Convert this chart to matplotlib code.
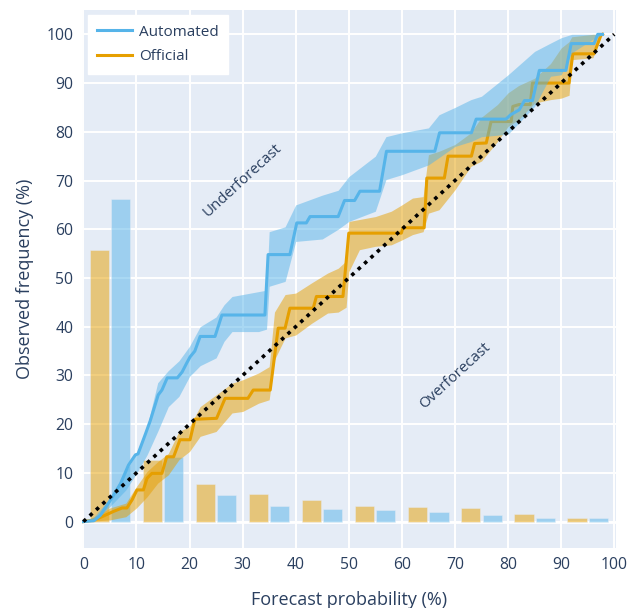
"""Reliability diagram: automated vs official forecasts."""

import matplotlib
matplotlib.use("Agg")
import matplotlib.pyplot as plt
import numpy as np

# --- data ------------------------------------------------------------------
bin_centers = [5, 15, 25, 35, 45, 55, 65, 75, 85, 95]
official_share = [55.8, 12.6, 7.7, 5.7, 4.5, 3.2, 3.1, 2.7, 1.6, 0.8]
automated_share = [66.3, 13.2, 5.5, 3.2, 2.6, 2.3, 2.0, 1.4, 0.8, 0.7]

auto_x = [0, 2, 3.2, 5.1, 7, 8.5, 9.8, 10.3, 11.7, 12.6, 14.1, 14.8, 15.8, 17.7,
          18.6, 19.5, 20.1, 21, 22, 24.8, 26.1, 34.2, 34.8, 38.9, 40.2, 42, 42.7,
          48, 49.2, 51.1, 52.1, 55.8, 57.1, 66.2, 67.1, 73.1, 74, 79.6, 80.5,
          82.1, 83.1, 84.6, 85.9, 90.9, 91.9, 96.2, 96.9, 97.8]
auto_y = [0, 0.2, 1.3, 4.4, 7.8, 11.6, 13.7, 13.9, 18, 20.7, 26, 27, 29.5, 29.5,
          30.7, 32.6, 33.8, 35, 38, 38, 42.4, 42.4, 54.8, 54.8, 61.3, 61.3, 62.6,
          62.6, 65.9, 65.9, 67.8, 67.8, 76, 76, 79.8, 79.8, 82.6, 82.6, 83.5,
          84.5, 86.4, 86.4, 92.6, 92.6, 98.1, 98.1, 100, 100]

auto_band_x = [0, 2, 5, 8, 10, 12, 14, 16, 18, 20, 22, 25, 26.5, 28, 33, 34.5,
               35, 38, 40, 45, 48, 50, 55, 57, 60, 65, 67, 70, 73, 75, 80, 85,
               88, 90, 92, 96, 98]
auto_hi = [0, 1, 4.8, 10.3, 14, 19.5, 28.5, 31, 33, 36, 40, 42, 44.5, 46.2, 47.2,
           47.5, 59.5, 60.5, 65, 67, 68, 70.8, 75, 79, 79.8, 80.8, 83.5, 85, 86.6,
           87.3, 91.7, 96.5, 98.2, 99.3, 100, 100, 100]
auto_lo = [0, 0, 3.1, 6.5, 9.9, 13.7, 18.5, 23.6, 25.7, 29.8, 32, 33.6, 37, 39,
           39, 39.5, 48.3, 49.3, 57.5, 58, 60, 61.6, 63.7, 70.2, 71.2, 73.2, 74.7,
           77, 78, 79, 79.5, 85.2, 91.4, 91.7, 96.2, 99, 100]

off_x = [0, 1.9, 3.5, 5.7, 7.3, 8.2, 9.2, 10.1, 11.3, 12, 12.9, 14.8, 15.7, 17,
         18.2, 20.1, 21, 25.1, 26.7, 31, 32, 35.2, 36.7, 38, 38.9, 43.3, 43.9,
         48.9, 50, 59.9, 60.2, 64.2, 64.7, 68, 68.7, 73.1, 73.7, 75.9, 76.8,
         80.6, 80.9, 82.1, 84.2, 84.6, 91.5, 92.2, 96.2, 97.5, 97.8]
off_y = [0, 0.3, 1, 2.1, 2.8, 2.8, 4.5, 6.5, 6.5, 8.9, 9.9, 9.9, 13.3, 13.3,
         16.8, 16.8, 21, 21.2, 25.3, 25.3, 27, 27, 39.7, 39.7, 43.8, 43.8, 46.2,
         46.2, 59.2, 59.2, 60.3, 60.3, 70.5, 70.5, 75, 75, 77.6, 77.7, 82.1,
         82.1, 85.2, 85.6, 85.6, 90, 90, 96, 96, 99.8, 100]

off_band_x = [0, 3, 5, 8, 10, 12, 14, 16, 18, 20, 22, 25, 28, 30, 33, 35, 36,
              38, 40, 43, 46, 48, 49.5, 50, 52, 55, 58, 60, 62, 64, 65, 67, 70,
              73, 75, 78, 80, 82, 85, 88, 90, 91.5, 92, 96, 97.5, 98]
off_hi = [0, 1.5, 2.8, 3.8, 7.2, 10.3, 12.3, 14, 18.5, 19.5, 23.6, 26, 28.4,
          29.1, 30.5, 31.8, 43, 46.6, 46.9, 49, 51, 52, 53.5, 61.6, 62, 62.6,
          63.7, 65, 66.4, 66.7, 75.3, 76, 77.4, 79.8, 83, 85.6, 88, 89.5, 91, 94,
          97.2, 98.5, 99.5, 100, 100, 100]
off_lo = [0, 0.2, 0.35, 1, 2.8, 5.1, 7.9, 9.6, 12.7, 14.4, 17.5, 18.5, 22.3,
          22.6, 24.3, 25, 33.2, 37.7, 38.3, 40.7, 42.8, 43, 44, 51.3, 55.8, 56.5,
          56.8, 57.8, 58.9, 59.5, 63.3, 64, 68.1, 72.9, 74, 78, 81.1, 82.5, 85.9,
          86.6, 86.9, 87.5, 94.8, 95.2, 100, 100]

# --- style ------------------------------------------------------------------
BLUE = "#56B4E9"
ORANGE = "#E69F00"
BG = "#E5ECF6"
TXT = "#2a3f5f"

plt.rcParams["font.family"] = ["Open Sans", "DejaVu Sans"]

fig = plt.figure(figsize=(6.29, 6.08), dpi=100)
ax = fig.add_axes([0.13, 0.098, 0.849, 0.8856])
ax.set_facecolor(BG)
for s in ax.spines.values():
    s.set_visible(False)
ax.grid(True, color="white", lw=1.4)
ax.set_axisbelow(True)
ax.axhline(0, color="white", lw=2, zorder=0.5)

centers = np.asarray(bin_centers, dtype=float)
ax.bar(centers - 2, official_share, width=3.6, color=ORANGE, alpha=0.5,
       edgecolor=BG, lw=0.6, zorder=1)
ax.bar(centers + 2, automated_share, width=3.6, color=BLUE, alpha=0.5,
       edgecolor=BG, lw=0.6, zorder=1)

ax.fill_between(off_band_x, off_lo, off_hi, color=ORANGE, alpha=0.5, lw=0, zorder=2)
ax.plot(off_x, off_y, color=ORANGE, lw=2.2, zorder=3, label="Official")
ax.fill_between(auto_band_x, auto_lo, auto_hi, color=BLUE, alpha=0.5, lw=0, zorder=4)
ax.plot(auto_x, auto_y, color=BLUE, lw=2.2, zorder=5, label="Automated")

ax.plot([0, 100], [0, 100], color="black", lw=2.6, ls=(0, (1, 1.4)), zorder=6)

ax.set_xlim(-0.3, 100.3)
ax.set_ylim(-5.5, 105)
ax.set_xticks(np.arange(0, 101, 10))
ax.set_yticks(np.arange(0, 101, 10))
ax.tick_params(length=0, labelsize=11.3, labelcolor=TXT, pad=6)
ax.set_xlabel("Forecast probability (%)", fontsize=13, color=TXT, labelpad=13)
ax.set_ylabel("Observed frequency (%)", fontsize=13, color=TXT, labelpad=9)

ang = ax.transData.transform_angles(np.array([45.0]), np.array([[50.0, 50.0]]))[0]
ax.text(30, 70, "Underforecast", rotation=ang, ha="center", va="center",
        rotation_mode="anchor", fontsize=10.8, color=TXT, zorder=7)
ax.text(70, 30, "Overforecast", rotation=ang, ha="center", va="center",
        rotation_mode="anchor", fontsize=10.8, color=TXT, zorder=7)

h, l = ax.get_legend_handles_labels()
leg = ax.legend(h[::-1], l[::-1], loc="upper left", bbox_to_anchor=(0.011, 0.99),
                frameon=True, fancybox=False, fontsize=11, handlelength=2.3,
                handletextpad=0.45, borderpad=0.6, labelspacing=0.65,
                borderaxespad=0)
leg.get_frame().set_facecolor("white")
leg.get_frame().set_edgecolor("white")
leg.get_frame().set_alpha(1)
for t in leg.get_texts():
    t.set_color(TXT)

fig.savefig("out.png", dpi=100)
plt.close(fig)
